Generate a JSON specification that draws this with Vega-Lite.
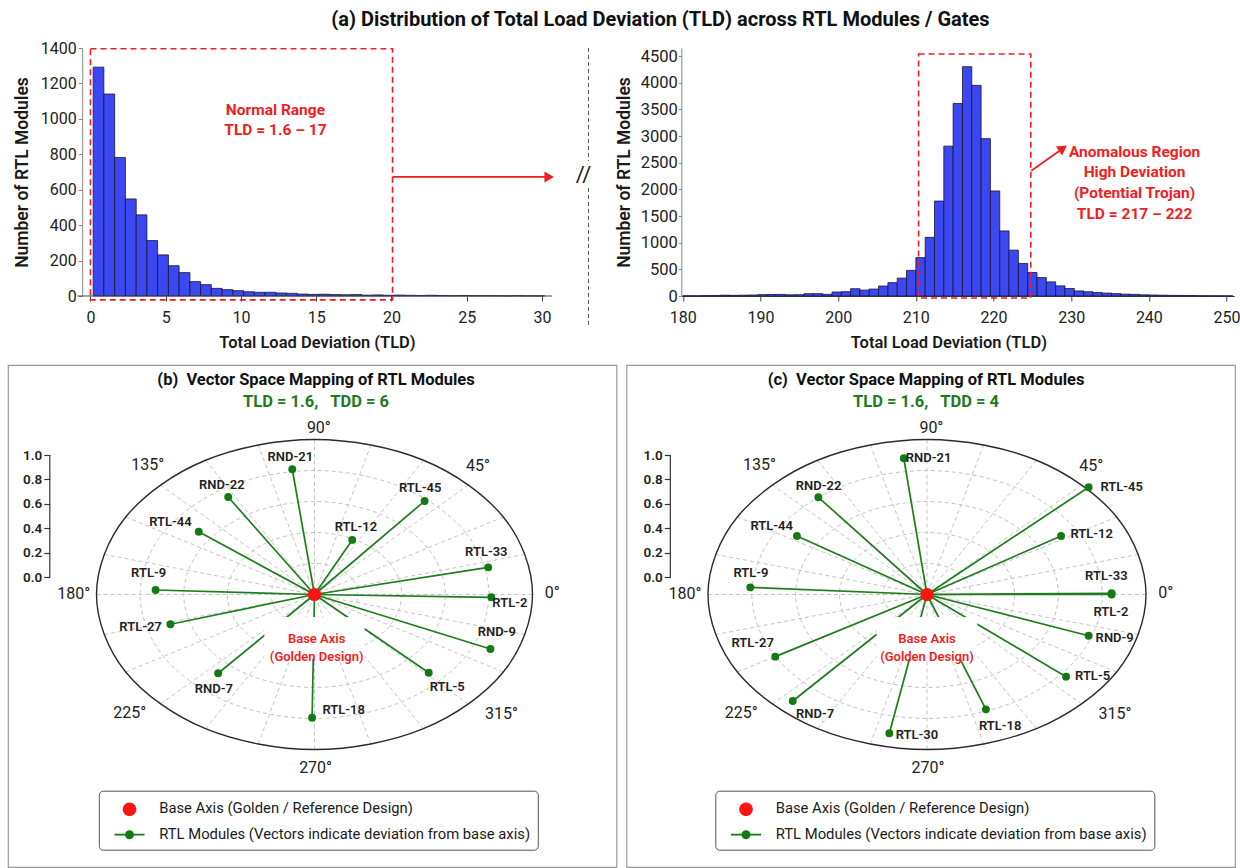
{
  "$schema": "https://vega.github.io/schema/vega-lite/v6.json",
  "background": "white",
  "padding": {"left": 7, "top": 10, "right": 0, "bottom": 0},
  "config": {
    "font": "Roboto",
    "view": {"stroke": null},
    "axis": {"grid": false, "labelOverlap": false, "labelFont": "Roboto", "titleFont": "Roboto", "labelColor": "#222", "titleColor": "#1a1a1a"},
    "legend": {"labelFont": "Roboto"},
    "title": {"font": "Roboto", "subtitleFont": "Roboto"},
    "text": {"font": "Roboto"}
  },
  "title": {"text": "(a) Distribution of Total Load Deviation (TLD) across RTL Modules / Gates", "fontSize": 20, "fontWeight": "bold", "color": "#111", "anchor": "middle", "dx": 36.7, "offset": 10},
  "datasets": {
    "hist1": [
      {"lo":0.18,"hi":0.89,"n":1292},{"lo":0.89,"hi":1.61,"n":1140},{"lo":1.61,"hi":2.32,"n":782},{"lo":2.32,"hi":3.04,"n":548},{"lo":3.04,"hi":3.75,"n":458},{"lo":3.75,"hi":4.46,"n":313},{"lo":4.46,"hi":5.18,"n":232},{"lo":5.18,"hi":5.89,"n":171},{"lo":5.89,"hi":6.61,"n":132},{"lo":6.61,"hi":7.32,"n":81},{"lo":7.32,"hi":8.03,"n":64},{"lo":8.03,"hi":8.75,"n":43},{"lo":8.75,"hi":9.46,"n":36},{"lo":9.46,"hi":10.18,"n":30},{"lo":10.18,"hi":10.89,"n":24},{"lo":10.89,"hi":11.6,"n":21},{"lo":11.6,"hi":12.32,"n":21},{"lo":12.32,"hi":13.03,"n":17},{"lo":13.03,"hi":13.75,"n":15},{"lo":13.75,"hi":14.46,"n":11},{"lo":14.46,"hi":15.17,"n":9},{"lo":15.17,"hi":15.89,"n":10},{"lo":15.89,"hi":16.6,"n":8},{"lo":16.6,"hi":17.32,"n":7},{"lo":17.32,"hi":18.03,"n":8},{"lo":18.03,"hi":18.74,"n":5},{"lo":18.74,"hi":19.46,"n":6},{"lo":19.46,"hi":20.17,"n":4},{"lo":20.17,"hi":20.89,"n":5},{"lo":20.89,"hi":21.6,"n":4},{"lo":21.6,"hi":22.31,"n":3},{"lo":22.31,"hi":23.03,"n":4},{"lo":23.03,"hi":23.74,"n":3},{"lo":23.74,"hi":24.46,"n":2},{"lo":24.46,"hi":25.17,"n":3},{"lo":25.17,"hi":25.88,"n":2},{"lo":25.88,"hi":26.6,"n":2},{"lo":26.6,"hi":27.31,"n":2},{"lo":27.31,"hi":28.03,"n":1},{"lo":28.03,"hi":28.74,"n":2},{"lo":28.74,"hi":29.45,"n":1},{"lo":29.45,"hi":30.17,"n":1}
    ],
    "hist2": [
      {"lo":180,"hi":181.2,"n":5},{"lo":181.2,"hi":182.4,"n":5},{"lo":182.4,"hi":183.6,"n":8},{"lo":183.6,"hi":184.8,"n":10},{"lo":184.8,"hi":186,"n":15},{"lo":186,"hi":187.2,"n":12},{"lo":187.2,"hi":188.4,"n":15},{"lo":188.4,"hi":189.6,"n":18},{"lo":189.6,"hi":190.8,"n":25},{"lo":190.8,"hi":192,"n":28},{"lo":192,"hi":193.2,"n":30},{"lo":193.2,"hi":194.4,"n":22},{"lo":194.4,"hi":195.6,"n":25},{"lo":195.6,"hi":196.8,"n":44},{"lo":196.8,"hi":198,"n":44},{"lo":198,"hi":199.2,"n":31},{"lo":199.2,"hi":200.4,"n":75},{"lo":200.4,"hi":201.6,"n":81},{"lo":201.6,"hi":202.8,"n":137},{"lo":202.8,"hi":204,"n":110},{"lo":204,"hi":205.2,"n":130},{"lo":205.2,"hi":206.4,"n":188},{"lo":206.4,"hi":207.6,"n":250},{"lo":207.6,"hi":208.8,"n":335},{"lo":208.8,"hi":210,"n":480},{"lo":210,"hi":211.2,"n":720},{"lo":211.2,"hi":212.4,"n":1100},{"lo":212.4,"hi":213.6,"n":1780},{"lo":213.6,"hi":214.8,"n":2810},{"lo":214.8,"hi":216,"n":3610},{"lo":216,"hi":217.2,"n":4300},{"lo":217.2,"hi":218.4,"n":3950},{"lo":218.4,"hi":219.6,"n":2950},{"lo":219.6,"hi":220.8,"n":1970},{"lo":220.8,"hi":222,"n":1220},{"lo":222,"hi":223.2,"n":860},{"lo":223.2,"hi":224.4,"n":610},{"lo":224.4,"hi":225.6,"n":440},{"lo":225.6,"hi":226.8,"n":345},{"lo":226.8,"hi":228,"n":265},{"lo":228,"hi":229.2,"n":190},{"lo":229.2,"hi":230.4,"n":140},{"lo":230.4,"hi":231.6,"n":95},{"lo":231.6,"hi":232.8,"n":80},{"lo":232.8,"hi":234,"n":65},{"lo":234,"hi":235.2,"n":55},{"lo":235.2,"hi":236.4,"n":45},{"lo":236.4,"hi":237.6,"n":35},{"lo":237.6,"hi":238.8,"n":30},{"lo":238.8,"hi":240,"n":22},{"lo":240,"hi":241.2,"n":18},{"lo":241.2,"hi":242.4,"n":15},{"lo":242.4,"hi":243.6,"n":12},{"lo":243.6,"hi":244.8,"n":10},{"lo":244.8,"hi":246,"n":8},{"lo":246,"hi":247.2,"n":6},{"lo":247.2,"hi":248.4,"n":5},{"lo":248.4,"hi":249.6,"n":4},{"lo":249.6,"hi":250.8,"n":3}
    ],
    "rings": [
      {"r":0.2,"k":0,"x":0.2,"y":0},{"r":0.2,"k":1,"x":0.1732,"y":0.1},{"r":0.2,"k":2,"x":0.1,"y":0.1732},{"r":0.2,"k":3,"x":0,"y":0.2},{"r":0.2,"k":4,"x":-0.1,"y":0.1732},{"r":0.2,"k":5,"x":-0.1732,"y":0.1},{"r":0.2,"k":6,"x":-0.2,"y":0},{"r":0.2,"k":7,"x":-0.1732,"y":-0.1},{"r":0.2,"k":8,"x":-0.1,"y":-0.1732},{"r":0.2,"k":9,"x":0,"y":-0.2},{"r":0.2,"k":10,"x":0.1,"y":-0.1732},{"r":0.2,"k":11,"x":0.1732,"y":-0.1},
      {"r":0.4,"k":0,"x":0.4,"y":0},{"r":0.4,"k":1,"x":0.3464,"y":0.2},{"r":0.4,"k":2,"x":0.2,"y":0.3464},{"r":0.4,"k":3,"x":0,"y":0.4},{"r":0.4,"k":4,"x":-0.2,"y":0.3464},{"r":0.4,"k":5,"x":-0.3464,"y":0.2},{"r":0.4,"k":6,"x":-0.4,"y":0},{"r":0.4,"k":7,"x":-0.3464,"y":-0.2},{"r":0.4,"k":8,"x":-0.2,"y":-0.3464},{"r":0.4,"k":9,"x":0,"y":-0.4},{"r":0.4,"k":10,"x":0.2,"y":-0.3464},{"r":0.4,"k":11,"x":0.3464,"y":-0.2},
      {"r":0.6,"k":0,"x":0.6,"y":0},{"r":0.6,"k":1,"x":0.5196,"y":0.3},{"r":0.6,"k":2,"x":0.3,"y":0.5196},{"r":0.6,"k":3,"x":0,"y":0.6},{"r":0.6,"k":4,"x":-0.3,"y":0.5196},{"r":0.6,"k":5,"x":-0.5196,"y":0.3},{"r":0.6,"k":6,"x":-0.6,"y":0},{"r":0.6,"k":7,"x":-0.5196,"y":-0.3},{"r":0.6,"k":8,"x":-0.3,"y":-0.5196},{"r":0.6,"k":9,"x":0,"y":-0.6},{"r":0.6,"k":10,"x":0.3,"y":-0.5196},{"r":0.6,"k":11,"x":0.5196,"y":-0.3},
      {"r":0.8,"k":0,"x":0.8,"y":0},{"r":0.8,"k":1,"x":0.6928,"y":0.4},{"r":0.8,"k":2,"x":0.4,"y":0.6928},{"r":0.8,"k":3,"x":0,"y":0.8},{"r":0.8,"k":4,"x":-0.4,"y":0.6928},{"r":0.8,"k":5,"x":-0.6928,"y":0.4},{"r":0.8,"k":6,"x":-0.8,"y":0},{"r":0.8,"k":7,"x":-0.6928,"y":-0.4},{"r":0.8,"k":8,"x":-0.4,"y":-0.6928},{"r":0.8,"k":9,"x":0,"y":-0.8},{"r":0.8,"k":10,"x":0.4,"y":-0.6928},{"r":0.8,"k":11,"x":0.6928,"y":-0.4},
      {"r":1,"k":0,"x":1,"y":0},{"r":1,"k":1,"x":0.866,"y":0.5},{"r":1,"k":2,"x":0.5,"y":0.866},{"r":1,"k":3,"x":0,"y":1},{"r":1,"k":4,"x":-0.5,"y":0.866},{"r":1,"k":5,"x":-0.866,"y":0.5},{"r":1,"k":6,"x":-1,"y":0},{"r":1,"k":7,"x":-0.866,"y":-0.5},{"r":1,"k":8,"x":-0.5,"y":-0.866},{"r":1,"k":9,"x":0,"y":-1},{"r":1,"k":10,"x":0.5,"y":-0.866},{"r":1,"k":11,"x":0.866,"y":-0.5}
    ],
    "spokes": [
      {"a":0,"x":1,"y":0},{"a":15,"x":0.9659,"y":0.2588},{"a":30,"x":0.866,"y":0.5},{"a":45,"x":0.7071,"y":0.7071},{"a":60,"x":0.5,"y":0.866},{"a":75,"x":0.2588,"y":0.9659},{"a":90,"x":0,"y":1},{"a":105,"x":-0.2588,"y":0.9659},{"a":120,"x":-0.5,"y":0.866},{"a":135,"x":-0.7071,"y":0.7071},{"a":150,"x":-0.866,"y":0.5},{"a":165,"x":-0.9659,"y":0.2588},{"a":180,"x":-1,"y":0},{"a":195,"x":-0.9659,"y":-0.2588},{"a":210,"x":-0.866,"y":-0.5},{"a":225,"x":-0.7071,"y":-0.7071},{"a":240,"x":-0.5,"y":-0.866},{"a":255,"x":-0.2588,"y":-0.9659},{"a":270,"x":0,"y":-1},{"a":285,"x":0.2588,"y":-0.9659},{"a":300,"x":0.5,"y":-0.866},{"a":315,"x":0.7071,"y":-0.7071},{"a":330,"x":0.866,"y":-0.5},{"a":345,"x":0.9659,"y":-0.2588}
    ],
    "angles": [
      {"t":"0°","x":1.09,"y":0.008},{"t":"45°","x":0.75,"y":0.83},{"t":"90°","x":0.02,"y":1.072},{"t":"135°","x":-0.765,"y":0.835},{"t":"180°","x":-1.105,"y":0.005},{"t":"225°","x":-0.848,"y":-0.766},{"t":"270°","x":0.005,"y":-1.121},{"t":"315°","x":0.858,"y":-0.77}
    ],
    "legendKey": [
      {"series":"Base Axis (Golden / Reference Design)"},
      {"series":"RTL Modules (Vectors indicate deviation from base axis)"}
    ],
    "panelB": [
      {"module":"Base Axis","x":0,"y":0,"lx":0,"ly":0,"series":"Base Axis (Golden / Reference Design)"},
      {"module":"RND-21","x":-0.102,"y":0.808,"lx":-0.111,"ly":0.889,"series":"RTL Modules (Vectors indicate deviation from base axis)"},
      {"module":"RND-22","x":-0.396,"y":0.629,"lx":-0.425,"ly":0.706,"series":"RTL Modules (Vectors indicate deviation from base axis)"},
      {"module":"RTL-44","x":-0.531,"y":0.405,"lx":-0.661,"ly":0.466,"series":"RTL Modules (Vectors indicate deviation from base axis)"},
      {"module":"RTL-9","x":-0.729,"y":0.029,"lx":-0.761,"ly":0.137,"series":"RTL Modules (Vectors indicate deviation from base axis)"},
      {"module":"RTL-12","x":0.173,"y":0.352,"lx":0.19,"ly":0.437,"series":"RTL Modules (Vectors indicate deviation from base axis)"},
      {"module":"RTL-45","x":0.505,"y":0.603,"lx":0.485,"ly":0.685,"series":"RTL Modules (Vectors indicate deviation from base axis)"},
      {"module":"RTL-33","x":0.797,"y":0.175,"lx":0.788,"ly":0.272,"series":"RTL Modules (Vectors indicate deviation from base axis)"},
      {"module":"RTL-2","x":0.811,"y":-0.018,"lx":0.896,"ly":-0.053,"series":"RTL Modules (Vectors indicate deviation from base axis)"},
      {"module":"RND-9","x":0.807,"y":-0.352,"lx":0.836,"ly":-0.244,"series":"RTL Modules (Vectors indicate deviation from base axis)"},
      {"module":"RTL-5","x":0.524,"y":-0.505,"lx":0.609,"ly":-0.599,"series":"RTL Modules (Vectors indicate deviation from base axis)"},
      {"module":"RTL-18","x":-0.011,"y":-0.795,"lx":0.134,"ly":-0.745,"series":"RTL Modules (Vectors indicate deviation from base axis)"},
      {"module":"RND-7","x":-0.442,"y":-0.508,"lx":-0.462,"ly":-0.612,"series":"RTL Modules (Vectors indicate deviation from base axis)"},
      {"module":"RTL-27","x":-0.661,"y":-0.192,"lx":-0.798,"ly":-0.208,"series":"RTL Modules (Vectors indicate deviation from base axis)"}
    ],
    "panelC": [
      {"module":"Base Axis","x":0,"y":0,"lx":0,"ly":0,"series":"Base Axis (Golden / Reference Design)"},
      {"module":"RND-21","x":-0.106,"y":0.879,"lx":0.007,"ly":0.879,"series":"RTL Modules (Vectors indicate deviation from base axis)"},
      {"module":"RND-22","x":-0.496,"y":0.627,"lx":-0.495,"ly":0.7,"series":"RTL Modules (Vectors indicate deviation from base axis)"},
      {"module":"RTL-44","x":-0.594,"y":0.377,"lx":-0.709,"ly":0.444,"series":"RTL Modules (Vectors indicate deviation from base axis)"},
      {"module":"RTL-9","x":-0.807,"y":0.046,"lx":-0.804,"ly":0.137,"series":"RTL Modules (Vectors indicate deviation from base axis)"},
      {"module":"RTL-45","x":0.738,"y":0.692,"lx":0.889,"ly":0.692,"series":"RTL Modules (Vectors indicate deviation from base axis)"},
      {"module":"RTL-12","x":0.612,"y":0.377,"lx":0.752,"ly":0.39,"series":"RTL Modules (Vectors indicate deviation from base axis)"},
      {"module":"RTL-33","x":0.843,"y":0.008,"lx":0.819,"ly":0.119,"series":"RTL Modules (Vectors indicate deviation from base axis)"},
      {"module":"RTL-2","x":0.843,"y":0,"lx":0.84,"ly":-0.113,"series":"RTL Modules (Vectors indicate deviation from base axis)"},
      {"module":"RND-9","x":0.738,"y":-0.266,"lx":0.857,"ly":-0.283,"series":"RTL Modules (Vectors indicate deviation from base axis)"},
      {"module":"RTL-5","x":0.635,"y":-0.53,"lx":0.756,"ly":-0.526,"series":"RTL Modules (Vectors indicate deviation from base axis)"},
      {"module":"RTL-18","x":0.269,"y":-0.741,"lx":0.334,"ly":-0.848,"series":"RTL Modules (Vectors indicate deviation from base axis)"},
      {"module":"RTL-30","x":-0.172,"y":-0.895,"lx":-0.046,"ly":-0.906,"series":"RTL Modules (Vectors indicate deviation from base axis)"},
      {"module":"RND-7","x":-0.613,"y":-0.687,"lx":-0.511,"ly":-0.771,"series":"RTL Modules (Vectors indicate deviation from base axis)"},
      {"module":"RTL-27","x":-0.693,"y":-0.401,"lx":-0.796,"ly":-0.315,"series":"RTL Modules (Vectors indicate deviation from base axis)"}
    ]
  },
  "align": "none",
  "spacing": 13,
  "resolve": {"scale": {"color": "independent", "shape": "independent"}, "legend": {"color": "independent", "shape": "independent"}},
  "vconcat": [
    {
      "bounds": "flush",
      "align": "none",
      "spacing": 128.3,
      "hconcat": [
        {
          "width": 544.2,
          "height": 248,
          "layer": [
            {
              "data": {"name": "hist1"},
              "mark": {"type": "rect", "fill": "#3b47ef", "stroke": "#15153c", "strokeWidth": 0.8},
              "encoding": {
                "x": {"field": "lo", "type": "quantitative", "scale": {"domain": [-5.48, 30.68], "nice": false, "zero": false},
                  "axis": {"title": "Total Load Deviation (TLD)", "values": [0, 5, 10, 15, 20, 25, 30], "tickCount": 40, "format": "d", "domain": false, "tickSize": 5, "tickColor": "#444", "labelPadding": 8, "labelFontSize": 16, "titleFontSize": 16.5, "titleFontWeight": 600, "titlePadding": 9, "titleX": 309, "labelFlush": false, "labelOverlap": false}},
                "x2": {"field": "hi"},
                "y": {"field": "n", "type": "quantitative", "scale": {"domain": [0, 1400], "nice": false},
                  "axis": {"title": "Number of RTL Modules", "values": [0, 200, 400, 600, 800, 1000, 1200, 1400], "tickCount": 40, "format": "d", "labelOverlap": false, "offset": -74.2, "tickSize": 4, "tickColor": "#888", "domainColor": "#888", "labelPadding": 2, "labelFontSize": 16, "titleFontSize": 17.5, "titleFontWeight": 600, "titlePadding": 9}},
                "y2": {"datum": 0}
              }
            },
            {
              "data": {"values": [{}]},
              "mark": {"type": "rule", "color": "#444", "strokeWidth": 1.2},
              "encoding": {"x": {"datum": -0.86, "type": "quantitative"}, "x2": {"datum": 30.68}, "y": {"datum": 0, "type": "quantitative"}}
            },
            {
              "data": {"values": [{}]},
              "mark": {"type": "rect", "fill": "transparent", "stroke": "#f01e23", "strokeWidth": 1.6, "strokeDash": [6, 4]},
              "encoding": {"x": {"datum": 0, "type": "quantitative"}, "x2": {"datum": 20.07}, "y": {"datum": -22, "type": "quantitative"}, "y2": {"datum": 1396}}
            },
            {
              "data": {"values": [{}]},
              "mark": {"type": "text", "color": "#f01e23", "fontSize": 15.5, "fontWeight": "bold", "lineHeight": 20, "align": "center", "baseline": "middle"},
              "encoding": {"x": {"datum": 12.29, "type": "quantitative"}, "y": {"datum": 1052, "type": "quantitative"}, "text": {"value": ["Normal Range", "TLD = 1.6 – 17"]}}
            },
            {
              "data": {"values": [{}]},
              "mark": {"type": "rule", "color": "#f01e23", "strokeWidth": 1.8},
              "encoding": {"x": {"datum": 20.07, "type": "quantitative"}, "x2": {"datum": 30.2}, "y": {"datum": 672, "type": "quantitative"}}
            },
            {
              "data": {"values": [{}]},
              "mark": {"type": "point", "shape": "triangle-right", "filled": true, "opacity": 1, "color": "#f01e23", "size": 120},
              "encoding": {"x": {"datum": 30.48, "type": "quantitative"}, "y": {"datum": 672, "type": "quantitative"}}
            },
            {
              "data": {"values": [{}]},
              "mark": {"type": "rule", "color": "#555", "strokeWidth": 1, "strokeDash": [4, 3]},
              "encoding": {"x": {"datum": 33.09, "type": "quantitative"}, "y": {"datum": 1400, "type": "quantitative"}, "y2": {"datum": 762}}
            },
            {
              "data": {"values": [{}]},
              "mark": {"type": "rule", "color": "#555", "strokeWidth": 1, "strokeDash": [4, 3]},
              "encoding": {"x": {"datum": 33.09, "type": "quantitative"}, "y": {"datum": 610, "type": "quantitative"}, "y2": {"datum": -164}}
            },
            {
              "data": {"values": [{}]},
              "mark": {"type": "text", "color": "#222", "fontSize": 22, "align": "center", "baseline": "middle"},
              "encoding": {"x": {"datum": 32.76, "type": "quantitative"}, "y": {"datum": 683, "type": "quantitative"}, "text": {"value": "//"}}
            }
          ]
        },
        {
          "width": 553,
          "height": 248,
          "layer": [
            {
              "data": {"name": "hist2"},
              "mark": {"type": "rect", "fill": "#3b47ef", "stroke": "#15153c", "strokeWidth": 0.8},
              "encoding": {
                "x": {"field": "lo", "type": "quantitative", "scale": {"domain": [179.8, 251.0], "nice": false, "zero": false},
                  "axis": {"title": "Total Load Deviation (TLD)", "values": [180, 190, 200, 210, 220, 230, 240, 250], "tickCount": 40, "format": "d", "tickSize": 5, "tickColor": "#444", "domainColor": "#444", "labelPadding": 8, "labelFontSize": 16, "titleFontSize": 16.5, "titleFontWeight": 600, "titlePadding": 9, "titleX": 267, "labelFlush": false, "labelOverlap": false}},
                "x2": {"field": "hi"},
                "y": {"field": "n", "type": "quantitative", "scale": {"domain": [0, 4650], "nice": false},
                  "axis": {"title": "Number of RTL Modules", "values": [0, 500, 1000, 1500, 2000, 2500, 3000, 3500, 4000, 4500], "tickCount": 40, "format": "d", "labelOverlap": false, "tickSize": 3, "tickColor": "#888", "domainColor": "#888", "labelPadding": 1, "labelFontSize": 16.5, "titleFontSize": 17.5, "titleFontWeight": 600, "titlePadding": 7}},
                "y2": {"datum": 0}
              }
            },
            {
              "data": {"values": [{}]},
              "mark": {"type": "rect", "fill": "transparent", "stroke": "#f01e23", "strokeWidth": 1.6, "strokeDash": [6, 4]},
              "encoding": {"x": {"datum": 210.35, "type": "quantitative"}, "x2": {"datum": 224.8}, "y": {"datum": -37, "type": "quantitative"}, "y2": {"datum": 4537}}
            },
            {
              "data": {"values": [{}]},
              "mark": {"type": "text", "color": "#f01e23", "fontSize": 15.5, "fontWeight": "bold", "lineHeight": 20.7, "align": "center", "baseline": "middle"},
              "encoding": {"x": {"datum": 238.16, "type": "quantitative"}, "y": {"datum": 2707, "type": "quantitative"}, "text": {"value": ["Anomalous Region", "High Deviation", "(Potential Trojan)", "TLD = 217 – 222"]}}
            },
            {
              "data": {"values": [{}]},
              "mark": {"type": "rule", "color": "#f01e23", "strokeWidth": 1.8},
              "encoding": {"x": {"datum": 224.86, "type": "quantitative"}, "x2": {"datum": 228.5}, "y": {"datum": 2349, "type": "quantitative"}, "y2": {"datum": 2724}}
            },
            {
              "data": {"values": [{}]},
              "mark": {"type": "point", "shape": "triangle-right", "filled": true, "opacity": 1, "color": "#f01e23", "size": 120, "angle": -35},
              "encoding": {"x": {"datum": 228.94, "type": "quantitative"}, "y": {"datum": 2769, "type": "quantitative"}}
            }
          ]
        }
      ]
    },
    {
      "bounds": "flush",
      "align": "none",
      "spacing": 9.5,
      "resolve": {"scale": {"color": "independent", "shape": "independent"}, "legend": {"color": "independent", "shape": "independent"}},
      "hconcat": [
        {
          "width": 608.5,
          "height": 502,
          "view": {"stroke": "#9a9a9a", "strokeWidth": 1.2},
          "title": {"text": "(b)\u00a0 Vector Space Mapping of RTL Modules", "subtitle": "TLD = 1.6,\u00a0\u00a0 TDD = 6", "fontSize": 16.5, "fontWeight": "bold", "color": "#111", "subtitleFontSize": 16.5, "subtitleFontWeight": "bold", "subtitleColor": "#1f7a1f", "subtitlePadding": 5, "anchor": "middle", "frame": "group", "offset": -45, "dx": 3.8},
          "resolve": {"scale": {"y": "independent"}},
          "layer": [
            {
              "layer": [
                {
                  "data": {"name": "rings"},
                  "transform": [{"filter": "datum.r < 1"}],
                  "mark": {"type": "line", "interpolate": "cardinal-closed", "color": "#c4c4c4", "strokeWidth": 1, "strokeDash": [4, 3]},
                  "encoding": {
                    "x": {"field": "x", "type": "quantitative", "scale": {"domain": [-1.406, 1.3853], "nice": false, "zero": false}, "axis": null},
                    "y": {"field": "y", "type": "quantitative", "scale": {"domain": [-1.7581, 1.4806], "nice": false, "zero": false}, "axis": null},
                    "detail": {"field": "r", "type": "nominal"},
                    "order": {"field": "k", "type": "quantitative"}
                  }
                },
                {
                  "data": {"name": "spokes"},
                  "mark": {"type": "rule", "color": "#c4c4c4", "strokeWidth": 1, "strokeDash": [4, 3]},
                  "encoding": {"x": {"field": "x", "type": "quantitative", "axis": null}, "y": {"field": "y", "type": "quantitative", "axis": null}, "x2": {"datum": 0}, "y2": {"datum": 0}}
                },
                {
                  "data": {"name": "rings"},
                  "transform": [{"filter": "datum.r == 1"}],
                  "mark": {"type": "line", "interpolate": "cardinal-closed", "color": "#2a2a2a", "strokeWidth": 1.4},
                  "encoding": {"x": {"field": "x", "type": "quantitative", "axis": null}, "y": {"field": "y", "type": "quantitative", "axis": null}, "order": {"field": "k", "type": "quantitative"}}
                },
                {
                  "data": {"name": "panelB"},
                  "transform": [{"filter": "datum.module != 'Base Axis'"}],
                  "mark": {"type": "rule", "color": "#1d7d1d", "strokeWidth": 1.7},
                  "encoding": {"x": {"field": "x", "type": "quantitative", "axis": null}, "y": {"field": "y", "type": "quantitative", "axis": null}, "x2": {"datum": 0}, "y2": {"datum": 0}}
                },
                {
                  "data": {"values": [{}]},
                  "mark": {"type": "rect", "fill": "white"},
                  "encoding": {"x": {"datum": -0.23, "type": "quantitative", "axis": null}, "x2": {"datum": 0.23}, "y": {"datum": -0.145, "type": "quantitative", "axis": null}, "y2": {"datum": -0.415}}
                },
                {
                  "data": {"values": [{}]},
                  "mark": {"type": "text", "color": "#f01e23", "fontSize": 13, "fontWeight": 600, "lineHeight": 18, "align": "center", "baseline": "middle"},
                  "encoding": {"x": {"datum": 0.01, "type": "quantitative", "axis": null}, "y": {"datum": -0.287, "type": "quantitative", "axis": null}, "text": {"value": ["Base Axis", "(Golden Design)"]}}
                },
                {
                  "data": {"name": "legendKey"},
                  "mark": {"type": "point", "filled": true, "opacity": 1, "size": 400, "clip": true},
                  "encoding": {
                    "x": {"datum": 9, "type": "quantitative", "axis": null},
                    "y": {"datum": 9, "type": "quantitative", "axis": null},
                    "color": {"field": "series", "type": "nominal", "scale": {"domain": ["Base Axis (Golden / Reference Design)", "RTL Modules (Vectors indicate deviation from base axis)"], "range": ["#ff1414", "#137a13"]},
                      "legend": {"title": null, "orient": "none", "legendX": 90.8, "legendY": 425.7, "direction": "vertical", "padding": 7.5, "strokeColor": "#555", "fillColor": "white", "cornerRadius": 4, "symbolSize": 400, "symbolOpacity": 1, "symbolOffset": 12.2, "labelOffset": 18.7, "rowPadding": 4.5, "labelFontSize": 14.8, "labelColor": "#1a1a1a", "labelLimit": 600}},
                    "shape": {"field": "series", "type": "nominal", "scale": {"domain": ["Base Axis (Golden / Reference Design)", "RTL Modules (Vectors indicate deviation from base axis)"], "range": ["M0.68,0A0.68,0.68,0,1,1,-0.68,0A0.68,0.68,0,1,1,0.68,0Z", "M-1.5,-0.09L-0.44,-0.09L-0.44,0.09L-1.5,0.09Z M0.44,-0.09L1.5,-0.09L1.5,0.09L0.44,0.09Z M0.45,0A0.45,0.45,0,1,1,-0.45,0A0.45,0.45,0,1,1,0.45,0Z"]},
                      "legend": {"title": null, "orient": "none", "legendX": 90.8, "legendY": 425.7, "direction": "vertical", "padding": 7.5, "strokeColor": "#555", "fillColor": "white", "cornerRadius": 4, "symbolSize": 400, "symbolOpacity": 1, "symbolOffset": 12.2, "labelOffset": 18.7, "rowPadding": 4.5, "labelFontSize": 14.8, "labelColor": "#1a1a1a", "labelLimit": 600}}
                  }
                },
                {
                  "data": {"name": "panelB"},
                  "transform": [{"filter": "datum.module != 'Base Axis'"}],
                  "mark": {"type": "point", "filled": true, "opacity": 1, "color": "#137a13", "size": 62},
                  "encoding": {"x": {"field": "x", "type": "quantitative", "axis": null}, "y": {"field": "y", "type": "quantitative", "axis": null}}
                },
                {
                  "data": {"name": "panelB"},
                  "transform": [{"filter": "datum.module == 'Base Axis'"}],
                  "mark": {"type": "point", "filled": true, "opacity": 1, "color": "#ff1414", "size": 175},
                  "encoding": {"x": {"field": "x", "type": "quantitative", "axis": null}, "y": {"field": "y", "type": "quantitative", "axis": null}}
                },
                {
                  "data": {"name": "panelB"},
                  "transform": [{"filter": "datum.module != 'Base Axis'"}],
                  "mark": {"type": "text", "fontSize": 13, "fontWeight": 600, "color": "#222", "align": "center", "baseline": "middle"},
                  "encoding": {"x": {"field": "lx", "type": "quantitative", "axis": null}, "y": {"field": "ly", "type": "quantitative", "axis": null}, "text": {"field": "module"}}
                },
                {
                  "data": {"name": "angles"},
                  "mark": {"type": "text", "fontSize": 16, "color": "#222", "align": "center", "baseline": "middle"},
                  "encoding": {"x": {"field": "x", "type": "quantitative", "axis": null}, "y": {"field": "y", "type": "quantitative", "axis": null}, "text": {"field": "t"}}
                }
              ]
            },
            {
              "data": {"values": [{}]},
              "mark": {"type": "rule", "color": "#333", "strokeWidth": 1.2},
              "encoding": {
                "x": {"datum": -1.2143, "type": "quantitative", "axis": null},
                "y": {"datum": 0, "type": "quantitative", "scale": {"domain": [-2.377, 1.7377], "nice": false, "zero": false},
                  "axis": {"orient": "left", "offset": -41.8, "domain": false, "values": [0, 0.2, 0.4, 0.6, 0.8, 1], "tickCount": 40, "format": ".1f", "tickSize": 6, "tickColor": "#333", "tickWidth": 1.2, "labelFontSize": 13.5, "labelFontWeight": 600, "labelPadding": 2, "labelColor": "#222", "title": null, "labelFlush": false}},
                "y2": {"datum": 1}
              }
            }
          ]
        },
        {
          "width": 608.5,
          "height": 502,
          "view": {"stroke": "#9a9a9a", "strokeWidth": 1.2},
          "title": {"text": "(c)\u00a0 Vector Space Mapping of RTL Modules", "subtitle": "TLD = 1.6,\u00a0\u00a0 TDD = 4", "fontSize": 16.5, "fontWeight": "bold", "color": "#111", "subtitleFontSize": 16.5, "subtitleFontWeight": "bold", "subtitleColor": "#1f7a1f", "subtitlePadding": 5, "anchor": "middle", "frame": "group", "offset": -45, "dx": -4.7},
          "resolve": {"scale": {"y": "independent"}},
          "layer": [
            {
              "layer": [
                {
                  "data": {"name": "rings"},
                  "transform": [{"filter": "datum.r < 1"}],
                  "mark": {"type": "line", "interpolate": "cardinal-closed", "color": "#c4c4c4", "strokeWidth": 1, "strokeDash": [4, 3]},
                  "encoding": {
                    "x": {"field": "x", "type": "quantitative", "scale": {"domain": [-1.3721, 1.4064], "nice": false, "zero": false}, "axis": null},
                    "y": {"field": "y", "type": "quantitative", "scale": {"domain": [-1.7581, 1.4806], "nice": false, "zero": false}, "axis": null},
                    "detail": {"field": "r", "type": "nominal"},
                    "order": {"field": "k", "type": "quantitative"}
                  }
                },
                {
                  "data": {"name": "spokes"},
                  "mark": {"type": "rule", "color": "#c4c4c4", "strokeWidth": 1, "strokeDash": [4, 3]},
                  "encoding": {"x": {"field": "x", "type": "quantitative", "axis": null}, "y": {"field": "y", "type": "quantitative", "axis": null}, "x2": {"datum": 0}, "y2": {"datum": 0}}
                },
                {
                  "data": {"name": "rings"},
                  "transform": [{"filter": "datum.r == 1"}],
                  "mark": {"type": "line", "interpolate": "cardinal-closed", "color": "#2a2a2a", "strokeWidth": 1.4},
                  "encoding": {"x": {"field": "x", "type": "quantitative", "axis": null}, "y": {"field": "y", "type": "quantitative", "axis": null}, "order": {"field": "k", "type": "quantitative"}}
                },
                {
                  "data": {"name": "panelC"},
                  "transform": [{"filter": "datum.module != 'Base Axis'"}],
                  "mark": {"type": "rule", "color": "#1d7d1d", "strokeWidth": 1.7},
                  "encoding": {"x": {"field": "x", "type": "quantitative", "axis": null}, "y": {"field": "y", "type": "quantitative", "axis": null}, "x2": {"datum": 0}, "y2": {"datum": 0}}
                },
                {
                  "data": {"values": [{}]},
                  "mark": {"type": "rect", "fill": "white"},
                  "encoding": {"x": {"datum": -0.23, "type": "quantitative", "axis": null}, "x2": {"datum": 0.23}, "y": {"datum": -0.145, "type": "quantitative", "axis": null}, "y2": {"datum": -0.415}}
                },
                {
                  "data": {"values": [{}]},
                  "mark": {"type": "text", "color": "#f01e23", "fontSize": 13, "fontWeight": 600, "lineHeight": 18, "align": "center", "baseline": "middle"},
                  "encoding": {"x": {"datum": 0.0, "type": "quantitative", "axis": null}, "y": {"datum": -0.287, "type": "quantitative", "axis": null}, "text": {"value": ["Base Axis", "(Golden Design)"]}}
                },
                {
                  "data": {"name": "legendKey"},
                  "mark": {"type": "point", "filled": true, "opacity": 1, "size": 400, "clip": true},
                  "encoding": {
                    "x": {"datum": 9, "type": "quantitative", "axis": null},
                    "y": {"datum": 9, "type": "quantitative", "axis": null},
                    "color": {"field": "series", "type": "nominal", "scale": {"domain": ["Base Axis (Golden / Reference Design)", "RTL Modules (Vectors indicate deviation from base axis)"], "range": ["#ff1414", "#137a13"]},
                      "legend": {"title": null, "orient": "none", "legendX": 88.8, "legendY": 425.7, "direction": "vertical", "padding": 7.5, "strokeColor": "#555", "fillColor": "white", "cornerRadius": 4, "symbolSize": 400, "symbolOpacity": 1, "symbolOffset": 12.2, "labelOffset": 18.7, "rowPadding": 4.5, "labelFontSize": 14.8, "labelColor": "#1a1a1a", "labelLimit": 600}},
                    "shape": {"field": "series", "type": "nominal", "scale": {"domain": ["Base Axis (Golden / Reference Design)", "RTL Modules (Vectors indicate deviation from base axis)"], "range": ["M0.68,0A0.68,0.68,0,1,1,-0.68,0A0.68,0.68,0,1,1,0.68,0Z", "M-1.5,-0.09L-0.44,-0.09L-0.44,0.09L-1.5,0.09Z M0.44,-0.09L1.5,-0.09L1.5,0.09L0.44,0.09Z M0.45,0A0.45,0.45,0,1,1,-0.45,0A0.45,0.45,0,1,1,0.45,0Z"]},
                      "legend": {"title": null, "orient": "none", "legendX": 88.8, "legendY": 425.7, "direction": "vertical", "padding": 7.5, "strokeColor": "#555", "fillColor": "white", "cornerRadius": 4, "symbolSize": 400, "symbolOpacity": 1, "symbolOffset": 12.2, "labelOffset": 18.7, "rowPadding": 4.5, "labelFontSize": 14.8, "labelColor": "#1a1a1a", "labelLimit": 600}}
                  }
                },
                {
                  "data": {"name": "panelC"},
                  "transform": [{"filter": "datum.module != 'Base Axis'"}],
                  "mark": {"type": "point", "filled": true, "opacity": 1, "color": "#137a13", "size": 62},
                  "encoding": {"x": {"field": "x", "type": "quantitative", "axis": null}, "y": {"field": "y", "type": "quantitative", "axis": null}}
                },
                {
                  "data": {"name": "panelC"},
                  "transform": [{"filter": "datum.module == 'Base Axis'"}],
                  "mark": {"type": "point", "filled": true, "opacity": 1, "color": "#ff1414", "size": 175},
                  "encoding": {"x": {"field": "x", "type": "quantitative", "axis": null}, "y": {"field": "y", "type": "quantitative", "axis": null}}
                },
                {
                  "data": {"name": "panelC"},
                  "transform": [{"filter": "datum.module != 'Base Axis'"}],
                  "mark": {"type": "text", "fontSize": 13, "fontWeight": 600, "color": "#222", "align": "center", "baseline": "middle"},
                  "encoding": {"x": {"field": "lx", "type": "quantitative", "axis": null}, "y": {"field": "ly", "type": "quantitative", "axis": null}, "text": {"field": "module"}}
                },
                {
                  "data": {"name": "angles"},
                  "mark": {"type": "text", "fontSize": 16, "color": "#222", "align": "center", "baseline": "middle"},
                  "encoding": {"x": {"field": "x", "type": "quantitative", "axis": null}, "y": {"field": "y", "type": "quantitative", "axis": null}, "text": {"field": "t"}}
                }
              ]
            },
            {
              "data": {"values": [{}]},
              "mark": {"type": "rule", "color": "#333", "strokeWidth": 1.2},
              "encoding": {
                "x": {"datum": -1.1721, "type": "quantitative", "axis": null},
                "y": {"datum": 0, "type": "quantitative", "scale": {"domain": [-2.377, 1.7377], "nice": false, "zero": false},
                  "axis": {"orient": "left", "offset": -43.8, "domain": false, "values": [0, 0.2, 0.4, 0.6, 0.8, 1], "tickCount": 40, "format": ".1f", "tickSize": 6, "tickColor": "#333", "tickWidth": 1.2, "labelFontSize": 13.5, "labelFontWeight": 600, "labelPadding": 2, "labelColor": "#222", "title": null, "labelFlush": false}},
                "y2": {"datum": 1}
              }
            }
          ]
        }
      ]
    }
  ]
}
